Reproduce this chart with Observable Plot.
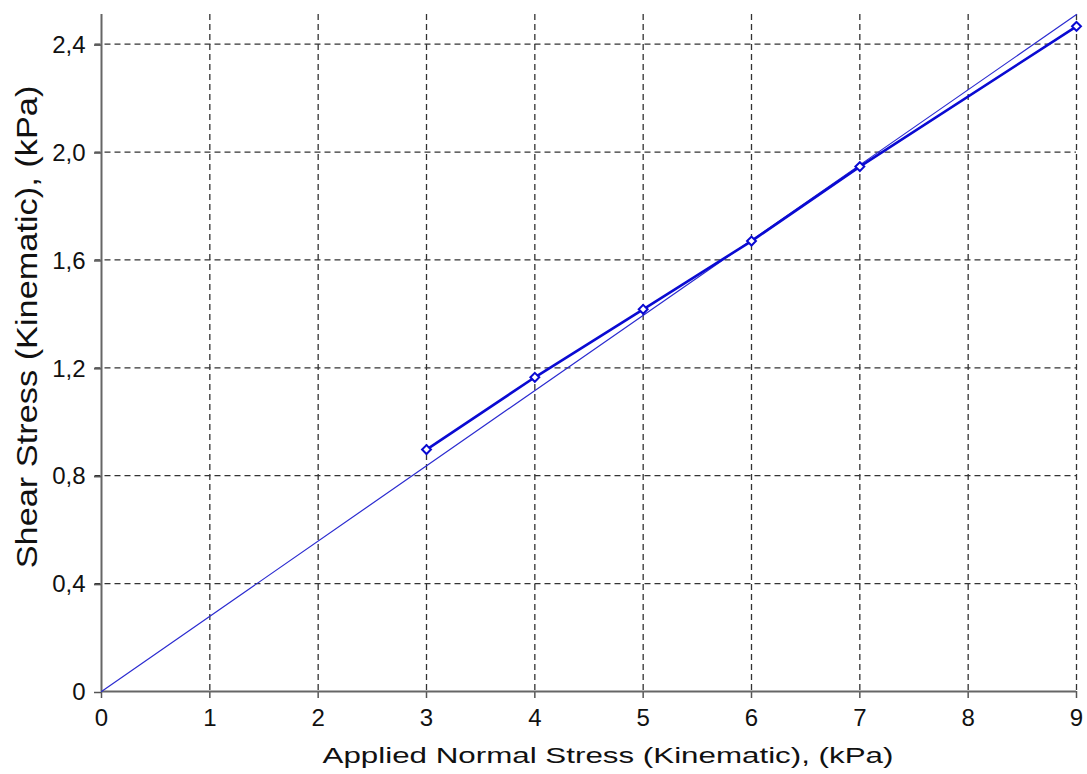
<!DOCTYPE html>
<html>
<head>
<meta charset="utf-8">
<script src="https://cdn.jsdelivr.net/npm/d3@7"></script>
<script src="https://cdn.jsdelivr.net/npm/@observablehq/plot@0.6"></script>
<style>
  html, body { margin: 0; padding: 0; background: #fff; }
  #chart svg { display: block; }
</style>
</head>
<body>
<div id="chart"></div>
<script>
// Measured data points
const normalStress = [3, 4, 5, 6, 7, 9];
const shearStress = [0.897, 1.165, 1.417, 1.670, 1.946, 2.466];
// Fitted line through origin
const fitX = [0, 9];
const fitY = [0, 2.51];
// Ticks
const xTicks = [0, 1, 2, 3, 4, 5, 6, 7, 8, 9];
const yTicks = [0, 0.4, 0.8, 1.2, 1.6, 2.0, 2.4];
const xLabel = "Applied Normal Stress (Kinematic), (kPa)";
const yLabel = "Shear Stress (Kinematic), (kPa)";

const measured = normalStress.map((x, i) => ({x, y: shearStress[i]}));
const fit = fitX.map((x, i) => ({x, y: fitY[i]}));
const fmtY = d => d === 0 ? "0" : d.toFixed(1).replace(".", ",");
const fmtX = d => String(d);

const chart = Plot.plot({
  width: 1087,
  height: 774,
  marginLeft: 101,
  marginRight: 11,
  marginTop: 14,
  marginBottom: 83,
  style: {fontFamily: "'Liberation Sans', Arial, sans-serif", background: "#fff", fontSize: "23px"},
  x: {domain: [0, 9]},
  y: {domain: [0, 2.51]},
  marks: [
    Plot.gridX(xTicks.filter(d => d > 0), {stroke: "#333", strokeOpacity: 1, strokeWidth: 1.3, strokeDasharray: "6,4"}),
    Plot.gridY(yTicks.filter(d => d > 0), {stroke: "#333", strokeOpacity: 1, strokeWidth: 1.3, strokeDasharray: "6,4", x1: -0.06}),
    Plot.axisX(xTicks, {tickSize: 7, tickPadding: 10, fontSize: 24, tickFormat: fmtX, stroke: "#555", strokeWidth: 1.5, label: null, color: "#111"}),
    Plot.axisY(yTicks, {tickSize: 7, tickPadding: 9, fontSize: 24, dy: 1, tickFormat: fmtY, stroke: "#555", strokeWidth: 1.5, label: null, color: "#111"}),
    Plot.ruleY([0], {stroke: "#666", strokeWidth: 2}),
    Plot.ruleX([0], {stroke: "#666", strokeWidth: 2}),
    Plot.line(fit, {x: "x", y: "y", stroke: "#2b2bd0", strokeWidth: 1.2}),
    Plot.line(measured, {x: "x", y: "y", stroke: "#0a0ad2", strokeWidth: 2.6}),
    Plot.dot(measured, {x: "x", y: "y", symbol: "diamond2", r: 4, stroke: "#0a0ad2", strokeWidth: 2, fill: "#fff"}),
    Plot.text([xLabel], {frameAnchor: "bottom", dx: 19, dy: 64, fontSize: 22.5, fill: "#111", lineAnchor: "middle"}),
    Plot.text([yLabel], {frameAnchor: "left", dx: -74, dy: -26, rotate: -90, fontSize: 29, fill: "#111", textAnchor: "middle"})
  ]
});
document.getElementById("chart").appendChild(chart);
// stretch axis titles along their length to match the reference's wide lettering
chart.querySelectorAll("text").forEach(t => {
  const target = t.textContent === xLabel ? 571 : t.textContent === yLabel ? 483 : null;
  if (!target) return;
  const len = t.getComputedTextLength();
  if (len > 0) {
    t.setAttribute("transform", (t.getAttribute("transform") || "") + ` scale(${target / len},1)`);
  }
});
</script>
</body>
</html>
